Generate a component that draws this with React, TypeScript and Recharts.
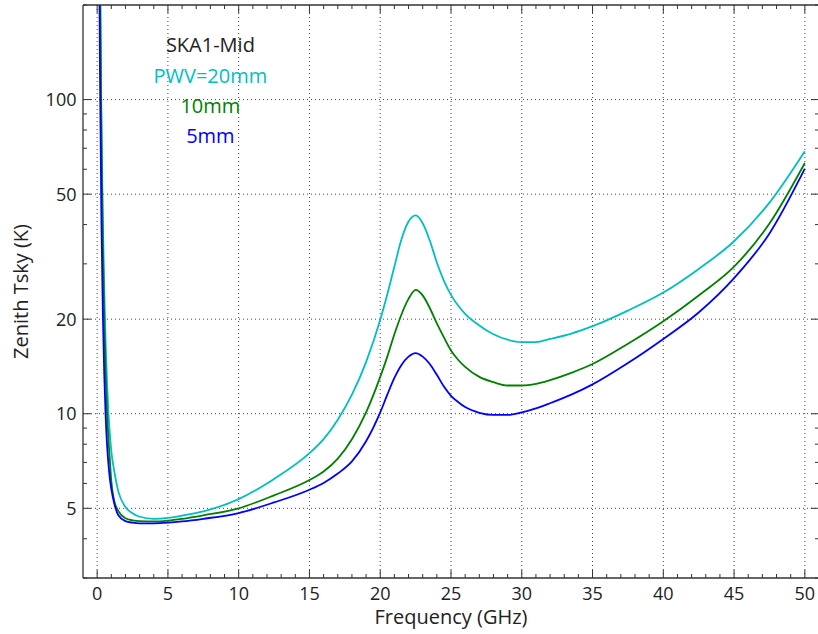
import { LineChart, Line, XAxis, YAxis, ReferenceLine, ReferenceDot } from 'recharts';

// frequency in GHz
const freq = [
  0.15, 0.2, 0.3, 0.4, 0.5, 0.6, 0.7, 0.8, 0.9, 1.0,
  1.2, 1.5, 2, 2.5, 3, 4, 5, 6, 7.5, 10,
  12.5, 15, 16, 17, 18, 19, 20, 20.5, 21, 21.5,
  22, 22.5, 23, 23.5, 24, 24.5, 25, 25.5, 26, 27, 28,
  29, 30, 31, 32, 33.5, 35, 37.5, 40, 42.5, 45,
  47.5, 50,
];

// zenith Tsky (K) for each PWV
const pwv20 = [
  590, 267, 88, 42, 25, 16.7, 12.5, 10.0, 8.6, 7.6,
  6.6, 5.65, 5.05, 4.82, 4.7, 4.63, 4.66, 4.74, 4.89, 5.35,
  6.2, 7.49, 8.3, 9.57, 11.5, 14.6, 19.9, 24.0, 29.4, 35.9,
  40.9, 42.8, 40.4, 35.6, 30.3, 26.5, 23.9, 22.1, 20.8, 19.1, 17.9,
  17.2, 16.9, 16.9, 17.3, 18.0, 19.0, 21.3, 24.3, 28.9, 35.4,
  47, 68.5,
];
const pwv10 = [
  575, 245, 76, 34.6, 19.9, 13.4, 10.1, 8.26, 7.1, 6.1,
  5.3, 4.9, 4.65, 4.58, 4.55, 4.54, 4.57, 4.63, 4.75, 5.0,
  5.5, 6.15, 6.55, 7.2, 8.3, 10.1, 13.1, 15.2, 17.9, 20.7,
  23.2, 24.8, 23.8, 21.7, 19.4, 17.5, 15.9, 14.85, 14.1, 13.1, 12.6,
  12.3, 12.3, 12.45, 12.8, 13.5, 14.4, 16.7, 19.7, 23.8, 29.4,
  40.3, 62.8,
];
const pwv5 = [
  264, 121, 41.9, 21.2, 13.4, 9.85, 7.96, 6.9, 6.2, 5.77,
  5.2, 4.75, 4.55, 4.5, 4.48, 4.48, 4.5, 4.54, 4.63, 4.83,
  5.22, 5.73, 6.02, 6.45, 7.05, 8.17, 10.1, 11.5, 13.0, 14.3,
  15.2, 15.6, 15.2, 14.4, 13.3, 12.2, 11.4, 10.9, 10.5, 10.07, 9.91,
  9.91, 10.1, 10.4, 10.8, 11.5, 12.4, 14.5, 17.3, 21.0, 27.0,
  37.5, 60.3,
];

const xMajor = [0, 5, 10, 15, 20, 25, 30, 35, 40, 45, 50];
const xTicks = Array.from({ length: 51 }, (_, i) => i);
const yMajor = [5, 10, 20, 50, 100];
const yTicks = [3, 4, 5, 6, 7, 8, 9, 10, 20, 30, 40, 50, 60, 70, 80, 90, 100, 200];

const rows = freq.map((f, i) => ({ f, c: pwv20[i], g: pwv10[i], b: pwv5[i] }));

const AX = '#333';
const CYAN = '#00bfbf';
const GREEN = '#008000';
const BLUE = '#0000ff';

function BottomTick(p: any) {
  const major = xMajor.includes(p.payload.value);
  return (
    <g>
      <line x1={p.x} x2={p.x} y1={p.y} y2={p.y - (major ? 8 : 4)} stroke={AX} />
      {major && (
        <text x={p.x} y={p.y + 22} textAnchor="middle" fontSize={18} fill="#222">
          {p.payload.value}
        </text>
      )}
    </g>
  );
}

function TopTick(p: any) {
  const major = xMajor.includes(p.payload.value);
  return <line x1={p.x} x2={p.x} y1={p.y} y2={p.y + (major ? 8 : 4)} stroke={AX} />;
}

function LeftTick(p: any) {
  const major = yMajor.includes(p.payload.value);
  return (
    <g>
      <line x1={p.x} x2={p.x + (major ? 8 : 4)} y1={p.y} y2={p.y} stroke={AX} />
      {major && (
        <text x={p.x - 6.5} y={p.y + 6.5} textAnchor="end" fontSize={18} fill="#222">
          {p.payload.value}
        </text>
      )}
    </g>
  );
}

function RightTick(p: any) {
  const major = yMajor.includes(p.payload.value);
  return <line x1={p.x} x2={p.x - (major ? 8 : 4)} y1={p.y} y2={p.y} stroke={AX} />;
}

const notes = [
  { text: 'SKA1-Mid', y: 148.8, color: '#222' },
  { text: 'PWV=20mm', y: 119.1, color: CYAN },
  { text: '10mm', y: 95.6, color: GREEN },
  { text: '5mm', y: 76.4, color: BLUE },
];

export default function App() {
  return (
    <div
      style={{
        position: 'absolute',
        left: 0,
        top: 0,
        width: 818,
        height: 634,
        overflow: 'hidden',
        background: '#fff',
        fontFamily: '"Open Sans", sans-serif',
      }}
    >
      <LineChart width={821} height={634} data={rows} margin={{ top: 0, right: 0, bottom: 0, left: 0 }}>
        <XAxis
          xAxisId="b"
          dataKey="f"
          type="number"
          domain={[-1, 51]}
          allowDataOverflow
          ticks={xTicks}
          interval={0}
          tickSize={0}
          tickMargin={0}
          tickLine={false}
          tick={(p: any) => <BottomTick {...p} />}
          axisLine={{ stroke: AX, strokeWidth: 1.3 }}
          height={56}
          label={{ value: 'Frequency (GHz)', position: 'insideBottom', offset: 10, fontSize: 20, fill: '#222' }}
        />
        <XAxis
          xAxisId="t"
          orientation="top"
          dataKey="f"
          type="number"
          domain={[-1, 51]}
          allowDataOverflow
          ticks={xTicks}
          interval={0}
          tickSize={0}
          tickMargin={0}
          tickLine={false}
          tick={(p: any) => <TopTick {...p} />}
          axisLine={{ stroke: AX, strokeWidth: 1.3 }}
          height={5}
        />
        <YAxis
          yAxisId="l"
          type="number"
          scale="log"
          domain={[3, 200]}
          allowDataOverflow
          ticks={yTicks}
          interval={0}
          tickSize={0}
          tickMargin={0}
          tickLine={false}
          tick={(p: any) => <LeftTick {...p} />}
          axisLine={{ stroke: AX, strokeWidth: 1.3 }}
          width={83}
          label={{
            value: 'Zenith Tsky (K)',
            angle: -90,
            position: 'insideLeft',
            offset: 21,
            fontSize: 20,
            fill: '#222',
            style: { textAnchor: 'middle' },
          }}
        />
        <YAxis
          yAxisId="r"
          orientation="right"
          type="number"
          scale="log"
          domain={[3, 200]}
          allowDataOverflow
          ticks={yTicks}
          interval={0}
          tickSize={0}
          tickMargin={0}
          tickLine={false}
          tick={(p: any) => <RightTick {...p} />}
          axisLine={{ stroke: AX, strokeWidth: 1.3 }}
          width={2}
        />

        {/* dotted grid at the major ticks */}
        {xMajor.map((v) => (
          <ReferenceLine key={'gx' + v} xAxisId="b" yAxisId="l" x={v} stroke="#444" strokeDasharray="1 3" />
        ))}
        {yMajor.map((v) => (
          <ReferenceLine key={'gy' + v} xAxisId="b" yAxisId="l" y={v} stroke="#444" strokeDasharray="1 3" />
        ))}

        <Line xAxisId="b" yAxisId="l" type="monotone" dataKey="c" stroke={CYAN} strokeWidth={1.8} dot={false} isAnimationActive={false} />
        <Line xAxisId="b" yAxisId="l" type="monotone" dataKey="g" stroke={GREEN} strokeWidth={1.8} dot={false} isAnimationActive={false} />
        <Line xAxisId="b" yAxisId="l" type="monotone" dataKey="b" stroke={BLUE} strokeWidth={1.8} dot={false} isAnimationActive={false} />

        {notes.map((n) => (
          <ReferenceDot
            key={n.text}
            xAxisId="b"
            yAxisId="l"
            x={8}
            y={n.y}
            r={1}
            fill="none"
            stroke="none"
            label={{ value: n.text, position: 'center', fontSize: 20, fill: n.color }}
          />
        ))}
      </LineChart>
    </div>
  );
}
